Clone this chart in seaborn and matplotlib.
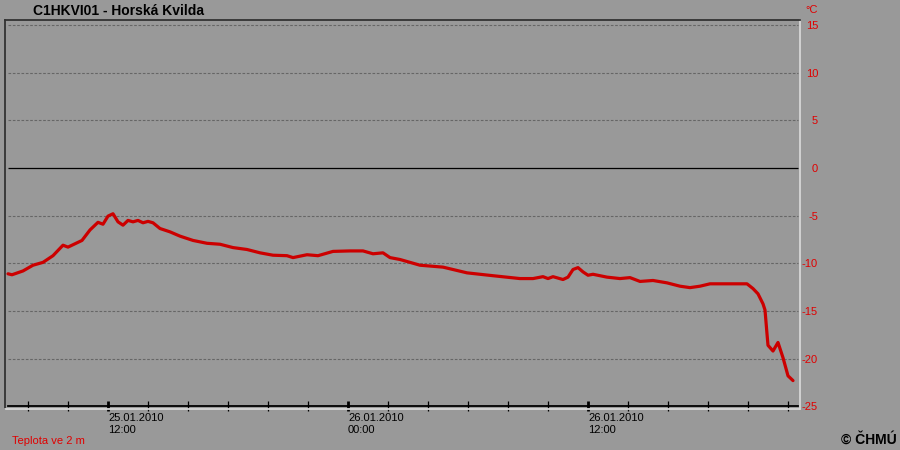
import matplotlib
matplotlib.use("Agg")
import matplotlib.pyplot as plt
import matplotlib.dates as mdates
import pandas as pd
import seaborn as sns

# ── Data ─────────────────────────────────────────────────────
TIMES = [
    "2010-01-25 07:00", "2010-01-25 07:12", "2010-01-25 07:45", "2010-01-25 08:15",
    "2010-01-25 08:45", "2010-01-25 09:15", "2010-01-25 09:45", "2010-01-25 10:00",
    "2010-01-25 10:42", "2010-01-25 11:06", "2010-01-25 11:30", "2010-01-25 11:45",
    "2010-01-25 12:00", "2010-01-25 12:15", "2010-01-25 12:30", "2010-01-25 12:45",
    "2010-01-25 13:00", "2010-01-25 13:15", "2010-01-25 13:30", "2010-01-25 13:45",
    "2010-01-25 14:00", "2010-01-25 14:15", "2010-01-25 14:36", "2010-01-25 15:06",
    "2010-01-25 15:36", "2010-01-25 16:15", "2010-01-25 16:57", "2010-01-25 17:36",
    "2010-01-25 18:15", "2010-01-25 18:57", "2010-01-25 19:36", "2010-01-25 20:15",
    "2010-01-25 20:57", "2010-01-25 21:15", "2010-01-25 21:57", "2010-01-25 22:30",
    "2010-01-25 23:15", "2010-01-26 00:06", "2010-01-26 00:45", "2010-01-26 01:15",
    "2010-01-26 01:45", "2010-01-26 02:06", "2010-01-26 02:36", "2010-01-26 03:36",
    "2010-01-26 04:45", "2010-01-26 05:57", "2010-01-26 07:15", "2010-01-26 08:36",
    "2010-01-26 09:15", "2010-01-26 09:45", "2010-01-26 10:00", "2010-01-26 10:15",
    "2010-01-26 10:45", "2010-01-26 11:00", "2010-01-26 11:15", "2010-01-26 11:30",
    "2010-01-26 11:45", "2010-01-26 12:00", "2010-01-26 12:15", "2010-01-26 12:57",
    "2010-01-26 13:36", "2010-01-26 14:06", "2010-01-26 14:36", "2010-01-26 15:15",
    "2010-01-26 15:57", "2010-01-26 16:36", "2010-01-26 17:06", "2010-01-26 17:36",
    "2010-01-26 18:06", "2010-01-26 19:45", "2010-01-26 19:57", "2010-01-26 20:15",
    "2010-01-26 20:30", "2010-01-26 20:45", "2010-01-26 20:51", "2010-01-26 20:57",
    "2010-01-26 21:00", "2010-01-26 21:15", "2010-01-26 21:30", "2010-01-26 21:45",
    "2010-01-26 22:00", "2010-01-26 22:15",
]
TEMPS = [
    -11.1, -11.2, -10.8, -10.2,
    -9.9, -9.2, -8.1, -8.3,
    -7.6, -6.5, -5.7, -5.9,
    -5.05, -4.8, -5.65, -6.0,
    -5.5, -5.65, -5.5, -5.75,
    -5.6, -5.75, -6.35, -6.7,
    -7.15, -7.6, -7.9, -8.0,
    -8.35, -8.55, -8.9, -9.15,
    -9.2, -9.4, -9.1, -9.2,
    -8.75, -8.7, -8.7, -9.0,
    -8.9, -9.4, -9.6, -10.2,
    -10.4, -11.0, -11.3, -11.6,
    -11.6, -11.4, -11.6, -11.4,
    -11.7, -11.45, -10.65, -10.45,
    -10.9, -11.25, -11.15, -11.45,
    -11.6, -11.5, -11.9, -11.8,
    -12.05, -12.4, -12.55, -12.4,
    -12.15, -12.15, -12.15, -12.65,
    -13.2, -14.25, -14.9, -17.4,
    -18.6, -19.2, -18.3, -19.9,
    -21.8, -22.3,
]
Y_TICKS = [15, 10, 5, 0, -5, -10, -15, -20, -25]
GRID_LEVELS = [15, 10, 5, -5, -10, -15, -20]

TITLE = "C1HKVI01 - Horská Kvilda"
UNIT = "°C"
SERIES_NAME = "Teplota ve 2 m"
CREDIT = "© ČHMÚ"

AXIS_START = pd.Timestamp("2010-01-25 07:00")
AXIS_END = pd.Timestamp("2010-01-26 22:30")

# ── Style ────────────────────────────────────────────────────
BG = "#999999"
RED_TEXT = "#e00000"
RED_LINE = "#cc0000"
GRID = "#666666"

sns.set_theme(style="white")
plt.rcParams["font.family"] = ["Liberation Sans", "DejaVu Sans"]

df = pd.DataFrame({"time": pd.to_datetime(TIMES), "temp": TEMPS})

fig = plt.figure(figsize=(9, 4.5), dpi=100, facecolor=BG)
ax = fig.add_axes([5 / 900, 1 - 409 / 450, 795 / 900, 389 / 450], facecolor=BG)

# grid + zero line
ax.hlines(GRID_LEVELS, AXIS_START, AXIS_END, colors=GRID,
          linestyles=(0, (2.4, 1.5)), linewidth=0.8, zorder=1)
ax.hlines(0, AXIS_START, AXIS_END, colors="black", linewidth=0.9, zorder=1)

sns.lineplot(data=df, x="time", y="temp", ax=ax, color=RED_LINE,
             linewidth=2.3, zorder=3)
ax.set_xlabel("")
ax.set_ylabel("")

ax.set_xlim(AXIS_START - pd.Timedelta(minutes=9), AXIS_END + pd.Timedelta(minutes=6))
ax.set_ylim(-25.28, 15.52)

# frame: sunken look
for side in ("left", "top"):
    ax.spines[side].set_color("#333333")
    ax.spines[side].set_linewidth(1.3)
ax.spines["right"].set_color("#d6d6d6")
ax.spines["right"].set_linewidth(1.3)
ax.plot([0, 1], [0, 0], transform=ax.transAxes, color="#d6d6d6",
        linewidth=1.3, clip_on=False, zorder=5)

# time axis at -25
ax.spines["bottom"].set_position(("data", -25))
ax.spines["bottom"].set_bounds(mdates.date2num(AXIS_START), mdates.date2num(AXIS_END))
ax.spines["bottom"].set_color("black")
ax.spines["bottom"].set_linewidth(1.3)
ax.xaxis.set_major_locator(mdates.HourLocator(byhour=[0, 12]))
ax.xaxis.set_minor_locator(mdates.HourLocator(byhour=range(0, 24, 2)))
ax.xaxis.set_major_formatter(mdates.DateFormatter("%d.%m.%Y\n%H:%M"))
ax.tick_params(axis="x", which="major", direction="inout", length=6.5, width=2,
               color="black", labelsize=8, labelcolor="black", pad=1.5, bottom=True)
ax.tick_params(axis="x", which="minor", direction="inout", length=6.5, width=0.9,
               color="black", bottom=True)
plt.setp(ax.get_xticklabels(), ha="left")

# temperature axis labels on the right
ax.yaxis.tick_right()
ax.set_yticks(Y_TICKS)
ax.set_yticklabels([str(v) for v in Y_TICKS])
ax.tick_params(axis="y", length=0, labelcolor=RED_TEXT, labelsize=8, pad=13)
plt.setp(ax.get_yticklabels(), ha="right")

# texts
fig.text(33 / 900, 1 - 11 / 450, TITLE, fontsize=10, fontweight="bold",
         color="black", va="center", ha="left")
fig.text(818 / 900, 1 - 10 / 450, UNIT, fontsize=8, color=RED_TEXT,
         va="center", ha="right")
fig.text(12 / 900, 1 - 441 / 450, SERIES_NAME, fontsize=8, color=RED_TEXT,
         va="center", ha="left")
fig.text(897 / 900, 1 - 440 / 450, CREDIT, fontsize=10, fontweight="bold",
         color="black", va="center", ha="right")

fig.savefig("out.png", dpi=100, facecolor=BG)
plt.close(fig)
